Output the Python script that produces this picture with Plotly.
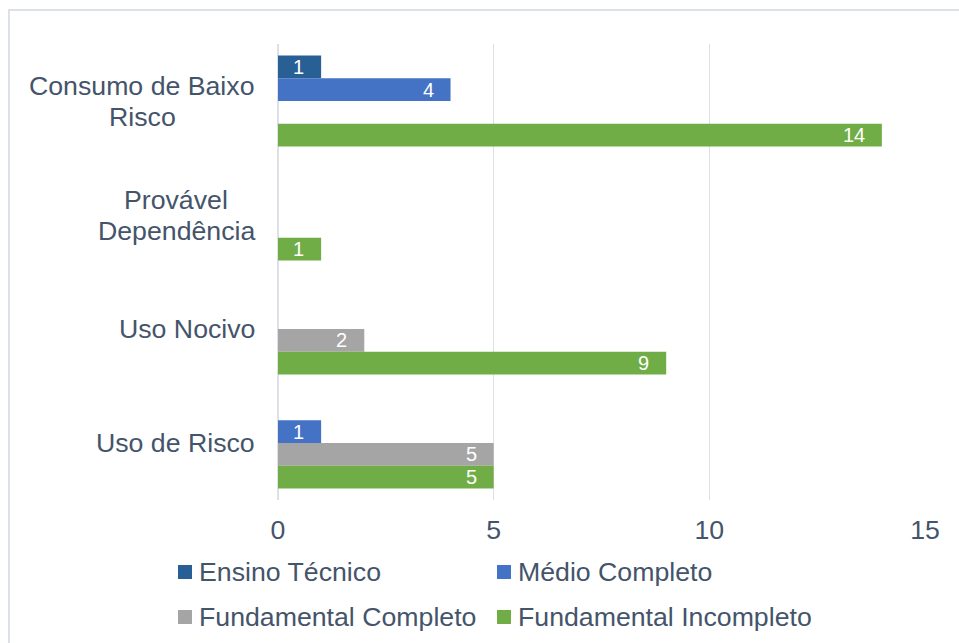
import plotly.graph_objects as go

categories = ["Consumo de Baixo Risco", "Provável Dependência", "Uso Nocivo", "Uso de Risco"]
category_lines = [["Consumo de Baixo", "Risco"], ["Provável", "Dependência"], ["Uso Nocivo"], ["Uso de Risco"]]
series_names = ["Ensino Técnico", "Médio Completo", "Fundamental Completo", "Fundamental Incompleto"]
ensino_tecnico = [1, None, None, None]
medio_completo = [4, None, None, 1]
fundamental_completo = [None, None, 2, 5]
fundamental_incompleto = [14, 1, 9, 5]
x_ticks = [0, 5, 10, 15]

series_values = [ensino_tecnico, medio_completo, fundamental_completo, fundamental_incompleto]
colors = ["#285F94", "#4472C4", "#A5A5A5", "#70AD47"]
text_color = "#44546A"
font_family = "Liberation Sans, Arial, sans-serif"
label_size = 26.7

W, H = 959, 643
M_L, M_R, M_T, M_B = 278, 34, 44, 143
plot_w = W - M_L - M_R
plot_h = H - M_T - M_B


def px_x(px):
    return (px - M_L) / plot_w


def px_y(py):
    return (H - M_B - py) / plot_h


fig = go.Figure()
for name, vals, col in zip(series_names, series_values, colors):
    fig.add_trace(go.Bar(
        y=categories, x=vals, name=name, orientation="h", showlegend=False,
        marker=dict(color=col, line=dict(width=0)),
    ))

# value labels placed just inside the end of each bar
n = len(series_names)
slot = 0.8 / n
annotations = []
for i, vals in enumerate(series_values):
    offset = -0.4 + slot / 2 + slot * i
    for j, v in enumerate(vals):
        if v is None:
            continue
        annotations.append(dict(
            x=v, y=j + offset, xref="x", yref="y", text=str(v),
            showarrow=False, xanchor="right", yanchor="middle", xshift=-15,
            font=dict(size=20, color="white", family=font_family),
        ))


# category labels: each line centred on the widest line of its block
def text_width(s):
    widths = {"C": .722, "o": .556, "n": .556, "s": .5, "u": .556, "m": .833, " ": .278,
              "d": .556, "e": .556, "B": .667, "a": .556, "i": .222, "x": .5, "R": .722,
              "c": .5, "P": .667, "r": .333, "v": .5, "á": .556, "l": .222, "D": .722,
              "p": .556, "ê": .556, "U": .722, "N": .722}
    return sum(widths.get(ch, .556) for ch in s) * label_size


line_pitch = 31
for j, lines in enumerate(category_lines):
    k = len(lines)
    block_w = max(text_width(s) for s in lines)
    for m, line in enumerate(lines):
        annotations.append(dict(
            x=0, y=j, xref="paper", yref="y", text=line, showarrow=False,
            xanchor="center", yanchor="middle",
            xshift=-23 - block_w / 2, yshift=(k - 1) / 2 * line_pitch - m * line_pitch,
            font=dict(size=label_size, color=text_color, family=font_family),
        ))

# legend: two rows of two entries, square swatch followed by the series name
legend_cols = [178, 497]
legend_rows = [572, 617]
swatch = 14
shapes = []
for i, (name, col) in enumerate(zip(series_names, colors)):
    cx = legend_cols[i % 2]
    cy = legend_rows[i // 2]
    shapes.append(dict(
        type="rect", xref="paper", yref="paper",
        x0=px_x(cx), x1=px_x(cx + swatch),
        y0=px_y(cy - swatch / 2), y1=px_y(cy + swatch / 2),
        fillcolor=col, line=dict(width=0),
    ))
    annotations.append(dict(
        x=px_x(cx + swatch + 5), y=px_y(cy), xref="paper", yref="paper",
        text=name, showarrow=False, xanchor="left", yanchor="middle",
        font=dict(size=label_size, color=text_color, family=font_family),
    ))

# light frame around the chart
shapes.append(dict(
    type="rect", xref="paper", yref="paper",
    x0=px_x(9), x1=px_x(W + 10), y0=px_y(H + 10), y1=px_y(10),
    line=dict(color="#DCE1E8", width=2), fillcolor="rgba(0,0,0,0)", layer="below",
))

fig.update_layout(
    width=W, height=H,
    margin=dict(l=M_L, r=M_R, t=M_T, b=M_B, autoexpand=False),
    paper_bgcolor="white", plot_bgcolor="white",
    barmode="group", bargap=0.2, bargroupgap=0,
    font=dict(family=font_family, size=label_size, color=text_color),
    annotations=annotations,
    shapes=shapes,
    showlegend=False,
)
fig.update_xaxes(
    range=[0, 15], tickvals=x_ticks, showgrid=True, gridcolor="#DDE1E7", gridwidth=1,
    zeroline=True, zerolinecolor="#DDE1E7", zerolinewidth=2, showline=False,
    ticks="", ticklabelstandoff=11, tickfont=dict(size=label_size, color=text_color),
    fixedrange=True,
)
fig.update_yaxes(
    range=[3.5, -0.5], showticklabels=False, showgrid=False, zeroline=False,
    showline=False, ticks="", fixedrange=True,
)
fig.write_html("out.html")
